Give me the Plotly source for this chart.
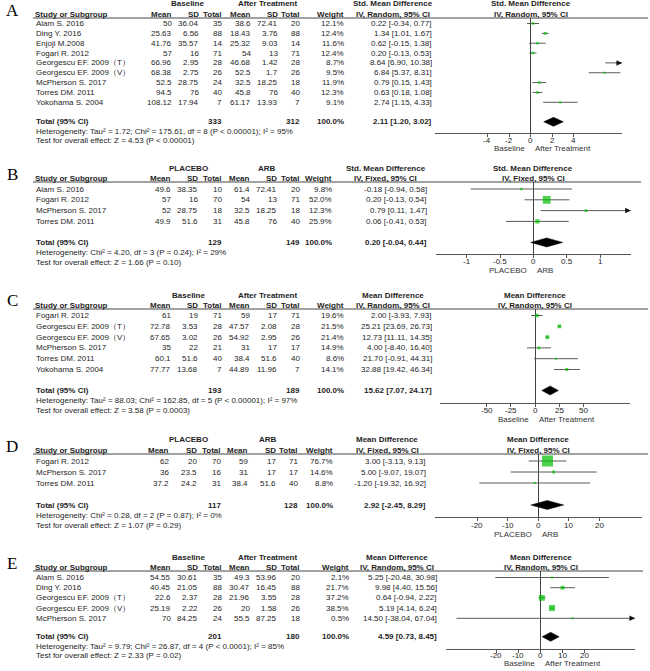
import plotly.graph_objects as go

W, H = 650, 671

# ---------------------------------------------------------------- data
A_study = ["Alam S. 2016", "Ding Y. 2016", "Enjoji M.2008", "Fogari R. 2012",
           "Georgescu EF. 2009（T）", "Georgescu EF. 2009（V）", "McPherson S. 2017",
           "Torres DM. 2011", "Yokohama S. 2004"]
A_mean1 = [50, 25.63, 41.76, 57, 66.96, 68.38, 52.5, 94.5, 108.12]
A_sd1 = [36.04, 6.56, 35.57, 16, 2.95, 2.75, 28.75, 76, 17.94]
A_n1 = [35, 88, 14, 71, 28, 26, 24, 40, 7]
A_mean2 = [38.6, 18.43, 25.32, 54, 46.68, 52.5, 32.5, 45.8, 61.17]
A_sd2 = [72.41, 3.76, 9.03, 13, 1.42, 1.7, 18.25, 76, 13.93]
A_n2 = [20, 88, 14, 71, 28, 26, 18, 40, 7]
A_weight = [12.1, 12.4, 11.6, 12.4, 8.7, 9.5, 11.9, 12.3, 9.1]
A_est = [0.22, 1.34, 0.62, 0.20, 8.64, 6.84, 0.79, 0.63, 2.74]
A_lo = [-0.34, 1.01, -0.15, -0.13, 6.90, 5.37, 0.15, 0.18, 1.15]
A_hi = [0.77, 1.67, 1.38, 0.53, 10.38, 8.31, 1.43, 1.08, 4.33]
A_total = [333, 312, 100.0, 2.11, 1.20, 3.02]   # n1, n2, weight, est, lo, hi
A_het = "Heterogeneity: Tau² = 1.72; Chi² = 175.61, df = 8 (P &lt; 0.00001); I² = 95%"
A_test = "Test for overall effect: Z = 4.53 (P &lt; 0.00001)"
A_ticks = [-4, -2, 0, 2, 4]
A_groups = ["Baseline", "After Treatment"]
A_effect = ["Std. Mean Difference", "IV, Random, 95% CI"]

B_study = ["Alam S. 2016", "Fogari R. 2012", "McPherson S. 2017", "Torres DM. 2011"]
B_mean1 = [49.6, 57, 52, 49.9]
B_sd1 = [38.35, 16, 28.75, 51.6]
B_n1 = [10, 70, 18, 31]
B_mean2 = [61.4, 54, 32.5, 45.8]
B_sd2 = [72.41, 13, 18.25, 76]
B_n2 = [20, 71, 18, 40]
B_weight = [9.8, 52.0, 12.3, 25.9]
B_est = [-0.18, 0.20, 0.79, 0.06]
B_lo = [-0.94, -0.13, 0.11, -0.41]
B_hi = [0.58, 0.54, 1.47, 0.53]
B_total = [129, 149, 100.0, 0.20, -0.04, 0.44]
B_het = "Heterogeneity: Chi² = 4.20, df = 3 (P = 0.24); I² = 29%"
B_test = "Test for overall effect: Z = 1.66 (P = 0.10)"
B_ticks = [-1, -0.5, 0, 0.5, 1]
B_groups = ["PLACEBO", "ARB"]
B_effect = ["Std. Mean Difference", "IV, Fixed, 95% CI"]

C_study = ["Fogari R. 2012", "Georgescu EF. 2009（T）", "Georgescu EF. 2009（V）",
           "McPherson S. 2017", "Torres DM. 2011", "Yokohama S. 2004"]
C_mean1 = [61, 72.78, 67.65, 35, 60.1, 77.77]
C_sd1 = [19, 3.53, 3.02, 22, 51.6, 13.68]
C_n1 = [71, 28, 26, 21, 40, 7]
C_mean2 = [59, 47.57, 54.92, 31, 38.4, 44.89]
C_sd2 = [17, 2.08, 2.95, 17, 51.6, 11.96]
C_n2 = [71, 28, 26, 17, 40, 7]
C_weight = [19.6, 21.5, 21.4, 14.9, 8.6, 14.1]
C_est = [2.00, 25.21, 12.73, 4.00, 21.70, 32.88]
C_lo = [-3.93, 23.69, 11.11, -8.40, -0.91, 19.42]
C_hi = [7.93, 26.73, 14.35, 16.40, 44.31, 46.34]
C_total = [193, 189, 100.0, 15.62, 7.07, 24.17]
C_het = "Heterogeneity: Tau² = 88.03; Chi² = 162.85, df = 5 (P &lt; 0.00001); I² = 97%"
C_test = "Test for overall effect: Z = 3.58 (P = 0.0003)"
C_ticks = [-50, -25, 0, 25, 50]
C_groups = ["Baseline", "After Treatment"]
C_effect = ["Mean Difference", "IV, Random, 95% CI"]

D_study = ["Fogari R. 2012", "McPherson S. 2017", "Torres DM. 2011"]
D_mean1 = [62, 36, 37.2]
D_sd1 = [20, 23.5, 24.2]
D_n1 = [70, 16, 31]
D_mean2 = [59, 31, 38.4]
D_sd2 = [17, 17, 51.6]
D_n2 = [71, 17, 40]
D_weight = [76.7, 14.6, 8.8]
D_est = [3.00, 5.00, -1.20]
D_lo = [-3.13, -9.07, -19.32]
D_hi = [9.13, 19.07, 16.92]
D_total = [117, 128, 100.0, 2.92, -2.45, 8.29]
D_het = "Heterogeneity: Chi² = 0.28, df = 2 (P = 0.87); I² = 0%"
D_test = "Test for overall effect: Z = 1.07 (P = 0.29)"
D_ticks = [-20, -10, 0, 10, 20]
D_groups = ["PLACEBO", "ARB"]
D_effect = ["Mean Difference", "IV, Fixed, 95% CI"]

E_study = ["Alam S. 2016", "Ding Y. 2016", "Georgescu EF. 2009（T）",
           "Georgescu EF. 2009（V）", "McPherson S. 2017"]
E_mean1 = [54.55, 40.45, 22.6, 25.19, 70]
E_sd1 = [30.61, 21.05, 2.37, 2.22, 84.25]
E_n1 = [35, 88, 28, 26, 24]
E_mean2 = [49.3, 30.47, 21.96, 20, 55.5]
E_sd2 = [53.96, 16.45, 3.55, 1.58, 87.25]
E_n2 = [20, 88, 28, 26, 18]
E_weight = [2.1, 21.7, 37.2, 38.5, 0.5]
E_est = [5.25, 9.98, 0.64, 5.19, 14.50]
E_lo = [-20.48, 4.40, -0.94, 4.14, -38.04]
E_hi = [30.98, 15.56, 2.22, 6.24, 67.04]
E_total = [201, 180, 100.0, 4.59, 0.73, 8.45]
E_het = "Heterogeneity: Tau² = 9.79; Chi² = 26.87, df = 4 (P &lt; 0.0001); I² = 85%"
E_test = "Test for overall effect: Z = 2.33 (P = 0.02)"
E_ticks = [-20, -10, 0, 10, 20]
E_groups = ["Baseline", "After Treatment"]
E_effect = ["Mean Difference", "IV, Random, 95% CI"]

PANELS = [
    dict(label="A", study=A_study, m1=A_mean1, sd1=A_sd1, n1=A_n1, m2=A_mean2, sd2=A_sd2, n2=A_n2,
         w=A_weight, est=A_est, lo=A_lo, hi=A_hi, tot=A_total, het=A_het, test=A_test,
         ticks=A_ticks, groups=A_groups, effect=A_effect),
    dict(label="B", study=B_study, m1=B_mean1, sd1=B_sd1, n1=B_n1, m2=B_mean2, sd2=B_sd2, n2=B_n2,
         w=B_weight, est=B_est, lo=B_lo, hi=B_hi, tot=B_total, het=B_het, test=B_test,
         ticks=B_ticks, groups=B_groups, effect=B_effect),
    dict(label="C", study=C_study, m1=C_mean1, sd1=C_sd1, n1=C_n1, m2=C_mean2, sd2=C_sd2, n2=C_n2,
         w=C_weight, est=C_est, lo=C_lo, hi=C_hi, tot=C_total, het=C_het, test=C_test,
         ticks=C_ticks, groups=C_groups, effect=C_effect),
    dict(label="D", study=D_study, m1=D_mean1, sd1=D_sd1, n1=D_n1, m2=D_mean2, sd2=D_sd2, n2=D_n2,
         w=D_weight, est=D_est, lo=D_lo, hi=D_hi, tot=D_total, het=D_het, test=D_test,
         ticks=D_ticks, groups=D_groups, effect=D_effect),
    dict(label="E", study=E_study, m1=E_mean1, sd1=E_sd1, n1=E_n1, m2=E_mean2, sd2=E_sd2, n2=E_n2,
         w=E_weight, est=E_est, lo=E_lo, hi=E_hi, tot=E_total, het=E_het, test=E_test,
         ticks=E_ticks, groups=E_groups, effect=E_effect),
]

# ---------------------------------------------------------------- layout geometry (pixels)
# H2: y of 2nd header row; step: row pitch; r0: first-row offset; tg: gap to total row;
# hs: pitch of heterogeneity/test lines; ax: axis line below total; tk/tt: tick label / title offsets
GEO = [
    dict(H2=14, step=9.85, r0=9.5, tg=19.5, hs=9.5, ax=11, tk=7.5, tt=16,
         m1=173, sd1=200, n1=223, m2=252, sd2=279, n2=301, w=345, ci=433,
         g1=187, g2=267, hc=393, px=(435, 622), rng=(-8.86, 8.45), rule=(33, 648)),
    dict(H2=178, step=10.8, r0=11, tg=21, hs=10, ax=11.5, tk=8, tt=17,
         m1=172, sd1=199, n1=223, m2=251, sd2=278, n2=301, w=333, ci=428,
         g1=188, g2=267, hc=386, px=(436, 630.7), rng=(-1.46, 1.46), rule=(33, 641)),
    dict(H2=305, step=10.8, r0=10.5, tg=21, hs=10, ax=12, tk=8, tt=17,
         m1=172, sd1=199, n1=223, m2=251, sd2=278, n2=301, w=345, ci=433,
         g1=188, g2=267, hc=393, px=(440, 630), rng=(-98.1, 98.1), rule=(33, 648)),
    dict(H2=450, step=11, r0=11, tg=22, hs=10, ax=12, tk=8, tt=17,
         m1=170, sd1=198, n1=222, m2=249, sd2=277, n2=299, w=334, ci=427,
         g1=188, g2=268, hc=387, px=(435, 641.7), rng=(-33.8, 33.8), rule=(33, 648)),
    dict(H2=567, step=10.2, r0=10.5, tg=18.5, hs=9.5, ax=12, tk=7, tt=15,
         m1=172, sd1=199, n1=223, m2=251, sd2=278, n2=301, w=350, ci=438,
         g1=188, g2=267, hc=397, px=(446, 635), rng=(-42.8, 42.8), rule=(33, 643)),
]

FONT = "Liberation Sans, Arial, sans-serif"
SERIF = "Liberation Serif, Times New Roman, serif"
TXT = "#1e1e1e"
GREEN = "#00c000"
CI_COL = "#5a5a5a"
AX_COL = "#555555"

ann, shapes = [], []


def text(x, y, s, anchor="left", bold=False, size=8, family=FONT, color=TXT, xref="paper"):
    ann.append(dict(x=(x / W) if xref == "paper" else x, y=1 - y / H, xref=xref, yref="paper",
                    text=("<b>%s</b>" % s) if bold else s, showarrow=False,
                    xanchor=anchor, yanchor="middle", borderpad=0,
                    font=dict(size=size, family=family, color=color)))


def g(v):
    return f"{v:g}"


fig = go.Figure()
axes = {}

for i, (P, G) in enumerate(zip(PANELS, GEO), start=1):
    sfx = "" if i == 1 else str(i)
    xr, yr = "x" + sfx, "y" + sfx
    H2, step = G["H2"], G["step"]
    n = len(P["study"])
    rows = [H2 + G["r0"] + step * k for k in range(n)]
    ytot = rows[-1] + G["tg"]
    yhet = ytot + G["hs"]
    ytest = yhet + G["hs"]
    yax = ytot + G["ax"]
    ytop = H2 + 4
    x0, x1 = G["px"]
    r0, r1 = G["rng"]
    zx = x0 + (0 - r0) / (r1 - r0) * (x1 - x0)

    # panel letter
    text(12, H2 - 4, P["label"], "center", size=17, family=SERIF, color="#000")
    # header rows
    text(G["g1"], H2 - 10, P["groups"][0], "center", True)
    text(G["g2"], H2 - 10, P["groups"][1], "center", True)
    text(G["hc"], H2 - 10, P["effect"][0], "center", True)
    text(zx, H2 - 10, P["effect"][0], "center", True)
    text(34, H2, "Study or Subgroup", "left", True)
    for key, lab in [("m1", "Mean"), ("sd1", "SD"), ("n1", "Total"), ("m2", "Mean"),
                     ("sd2", "SD"), ("n2", "Total"), ("w", "Weight")]:
        text(G[key], H2, lab, "right", True)
    text(G["hc"], H2, P["effect"][1], "center", True)
    text(zx, H2, P["effect"][1], "center", True)
    shapes.append(dict(type="line", xref="paper", yref="paper",
                       x0=G["rule"][0] / W, x1=G["rule"][1] / W,
                       y0=1 - ytop / H, y1=1 - ytop / H,
                       line=dict(color="#444444", width=1)))

    # study rows
    for k in range(n):
        y = rows[k]
        text(35, y, P["study"][k])
        text(G["m1"], y, g(P["m1"][k]), "right")
        text(G["sd1"], y, g(P["sd1"][k]), "right")
        text(G["n1"], y, str(P["n1"][k]), "right")
        text(G["m2"], y, g(P["m2"][k]), "right")
        text(G["sd2"], y, g(P["sd2"][k]), "right")
        text(G["n2"], y, str(P["n2"][k]), "right")
        text(G["w"], y, f"{P['w'][k]:.1f}%", "right")
        text(G["ci"], y, f"{P['est'][k]:.2f} [{P['lo'][k]:.2f}, {P['hi'][k]:.2f}]", "right")

    # total rows
    tn1, tn2, tw, te, tl, th = P["tot"]
    text(35, ytot, "Total (95% CI)", "left", True)
    text(G["n1"], ytot, str(tn1), "right", True)
    text(G["n2"], ytot, str(tn2), "right", True)
    text(G["w"], ytot, f"{tw:.1f}%", "right", True)
    text(G["ci"], ytot, f"{te:.2f} [{tl:.2f}, {th:.2f}]", "right", True)
    text(35, yhet, P["het"])
    text(35, ytest, P["test"])

    # tick labels and axis titles (positioned through the x axis)
    for t in P["ticks"]:
        text(t, yax + G["tk"], g(t), "center", xref=xr)
    text(zx - 5, yax + G["tt"], P["groups"][0], "right", color="#333333")
    text(zx + 3, yax + G["tt"], P["groups"][1], "left", color="#333333")

    # CI lines
    xs, ys = [], []
    for k in range(n):
        xs += [P["lo"][k], P["hi"][k], None]
        ys += [rows[k], rows[k], None]
    fig.add_trace(go.Scatter(x=xs, y=ys, mode="lines", xaxis=xr, yaxis=yr,
                             line=dict(color=CI_COL, width=1), hoverinfo="skip"))
    # weighted squares
    fig.add_trace(go.Scatter(x=P["est"], y=rows, mode="markers", xaxis=xr, yaxis=yr,
                             marker=dict(symbol="square", color=GREEN,
                                         size=[max(2.0, 1 + 0.13 * w) for w in P["w"]],
                                         line=dict(width=0))))
    # arrows for truncated intervals
    for k in range(n):
        if P["hi"][k] > r1:
            ann.append(dict(x=r1, y=rows[k], xref=xr, yref=yr, ax=-7, ay=0, text="",
                            showarrow=True, arrowhead=2, arrowsize=1, arrowwidth=1.1,
                            arrowcolor="#111111", standoff=0))
        if P["lo"][k] < r0:
            ann.append(dict(x=r0, y=rows[k], xref=xr, yref=yr, ax=7, ay=0, text="",
                            showarrow=True, arrowhead=2, arrowsize=1, arrowwidth=1.1,
                            arrowcolor="#111111", standoff=0))
    # pooled diamond
    fig.add_trace(go.Scatter(x=[tl, te, th, te, tl], y=[ytot, ytot - 4.5, ytot, ytot + 4.5, ytot],
                             mode="lines", fill="toself", fillcolor="#000000",
                             line=dict(color="#000000", width=0.5), xaxis=xr, yaxis=yr))

    axes["xaxis" + sfx] = dict(domain=[x0 / W, x1 / W], range=[r0, r1], anchor=yr,
                               showline=True, linecolor=AX_COL, linewidth=1,
                               ticks="outside", ticklen=3, tickwidth=1, tickcolor=AX_COL,
                               tickvals=P["ticks"], showticklabels=False,
                               showgrid=False, zeroline=True, zerolinecolor="#444444",
                               zerolinewidth=1, fixedrange=True)
    axes["yaxis" + sfx] = dict(domain=[1 - yax / H, 1 - ytop / H], range=[yax, ytop],
                               anchor=xr, visible=False, showgrid=False, zeroline=False,
                               fixedrange=True)

fig.update_layout(width=W, height=H, margin=dict(l=0, r=0, t=0, b=0),
                  paper_bgcolor="white", plot_bgcolor="rgba(0,0,0,0)",
                  showlegend=False, hovermode=False,
                  annotations=ann, shapes=shapes, **axes)
fig.write_html("out.html",
               config={"displayModeBar": False, "staticPlot": True},
               post_script="document.body.style.margin='0';document.body.style.padding='0';"
                           "document.body.style.overflow='hidden';")
